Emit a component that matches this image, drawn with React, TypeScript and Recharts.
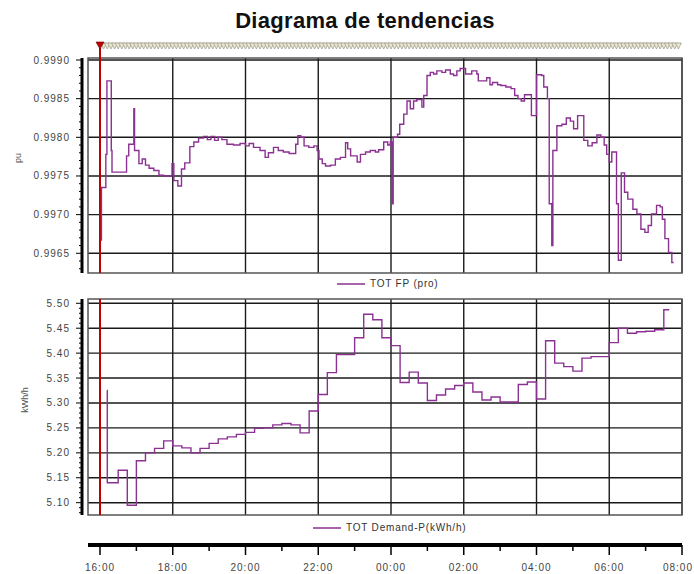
import { LineChart, Line, XAxis, YAxis, CartesianGrid, ReferenceLine, ReferenceArea, Legend } from 'recharts'

const FONT = 'Arial, "Liberation Sans", sans-serif'
const LINE_COLOR = '#8a3191'
const GRID = '#1a1a1a'
const CURSOR = '#c00000'

// time axis is in hours counted from 00:00 of the first day (24 = 00:00 next day)
const hourTicks = [16, 18, 20, 22, 24, 26, 28, 30, 32]
const hourLabels = ['16:00', '18:00', '20:00', '22:00', '00:00', '02:00', '04:00', '06:00', '08:00']
const allHours = [16, 17, 18, 19, 20, 21, 22, 23, 24, 25, 26, 27, 28, 29, 30, 31, 32]

const fpMajor = [0.9965, 0.997, 0.9975, 0.998, 0.9985, 0.999]
const fpLabels = ['0.9965', '0.9970', '0.9975', '0.9980', '0.9985', '0.9990']
const demandMajor = [5.1, 5.15, 5.2, 5.25, 5.3, 5.35, 5.4, 5.45, 5.5]
const demandLabels = ['5.10', '5.15', '5.20', '5.25', '5.30', '5.35', '5.40', '5.45', '5.50']

const fpTimes = [
	16.02, 16.04, 16.16, 16.19, 16.31, 16.33, 16.73, 16.79, 16.93, 16.95,
	17.07, 17.16, 17.25, 17.35, 17.48, 17.62, 17.75, 17.98, 18.03, 18.14,
	18.24, 18.33, 18.47, 18.58, 18.71, 18.85, 18.95, 19.05, 19.15, 19.25,
	19.35, 19.49, 19.67, 19.85, 20.0, 20.1, 20.22, 20.4, 20.54, 20.63,
	20.77, 20.9, 21.04, 21.2, 21.38, 21.44, 21.52, 21.61, 21.74, 21.88,
	21.97, 22.02, 22.11, 22.2, 22.34, 22.47, 22.61, 22.75, 22.81, 22.89,
	23.07, 23.16, 23.3, 23.43, 23.57, 23.66, 23.8, 23.91, 23.98, 24.03,
	24.06, 24.18, 24.24, 24.35, 24.44, 24.53, 24.62, 24.71, 24.85, 24.9,
	24.99, 25.08, 25.17, 25.26, 25.4, 25.5, 25.63, 25.72, 25.81, 25.9,
	26.05, 26.22, 26.36, 26.4, 26.63, 26.72, 26.79, 26.93, 27.02, 27.16,
	27.3, 27.4, 27.49, 27.58, 27.67, 27.86, 28.0, 28.14, 28.2, 28.3,
	28.35, 28.42, 28.45, 28.56, 28.7, 28.82, 28.93, 29.02, 29.13, 29.3,
	29.41, 29.53, 29.66, 29.77, 29.86, 29.93, 30.0, 30.07, 30.2, 30.25,
	30.33, 30.42, 30.51, 30.65, 30.76, 30.87, 30.98, 31.07, 31.16, 31.3,
	31.4, 31.46, 31.53, 31.63, 31.72, 31.77,
]
const fpValues = [
	0.99667, 0.99735, 0.99778, 0.99873, 0.99783, 0.99755, 0.99776, 0.99791, 0.99837, 0.99783,
	0.99766, 0.99772, 0.99764, 0.9976, 0.99757, 0.99751, 0.9975, 0.99766, 0.99744, 0.99737,
	0.99759, 0.99767, 0.99788, 0.99794, 0.99799, 0.99801, 0.99797, 0.99801, 0.99796, 0.998,
	0.99797, 0.99791, 0.9979, 0.99792, 0.99789, 0.99792, 0.99787, 0.99783, 0.99774, 0.9978,
	0.99787, 0.99783, 0.99781, 0.99779, 0.99791, 0.99802, 0.998, 0.99789, 0.99787, 0.99789,
	0.99783, 0.99772, 0.99766, 0.99763, 0.99764, 0.99772, 0.99774, 0.99793, 0.99785, 0.99776,
	0.99768, 0.99778, 0.99781, 0.99783, 0.99781, 0.99784, 0.99794, 0.9979, 0.99794, 0.99714,
	0.998, 0.99804, 0.99817, 0.9983, 0.99847, 0.99837, 0.99847, 0.99849, 0.99839, 0.99854,
	0.9988, 0.99884, 0.99882, 0.99886, 0.99884, 0.99887, 0.99882, 0.9988, 0.99886, 0.99889,
	0.99882, 0.99886, 0.99882, 0.99873, 0.99877, 0.99868, 0.99871, 0.99868, 0.99867, 0.99865,
	0.99863, 0.99854, 0.9985, 0.99847, 0.99855, 0.99828, 0.99881, 0.9988, 0.99865, 0.9985,
	0.99714, 0.9966, 0.99783, 0.99815, 0.99817, 0.99825, 0.99821, 0.99811, 0.99828, 0.99796,
	0.99789, 0.99793, 0.99803, 0.998, 0.9979, 0.99778, 0.99768, 0.99781, 0.99714, 0.99641,
	0.99754, 0.99729, 0.9972, 0.99707, 0.99701, 0.99681, 0.99677, 0.99686, 0.99701, 0.99712,
	0.9971, 0.99694, 0.99669, 0.99651, 0.99638, 0.99638,
]

const demandTimes = [
	16.19, 16.2, 16.5, 16.75, 17.0, 17.25, 17.5, 17.75, 18.0, 18.25,
	18.5, 18.75, 19.0, 19.25, 19.5, 19.75, 20.0, 20.25, 20.5, 20.75,
	21.0, 21.25, 21.5, 21.75, 22.0, 22.25, 22.5, 22.75, 23.0, 23.25,
	23.5, 23.75, 24.0, 24.25, 24.5, 24.75, 25.0, 25.25, 25.5, 25.75,
	26.0, 26.25, 26.5, 26.75, 27.0, 27.25, 27.5, 27.75, 28.0, 28.25,
	28.5, 28.75, 29.0, 29.25, 29.5, 29.75, 30.0, 30.25, 30.5, 30.75,
	31.0, 31.25, 31.5, 31.65,
]
const demandValues = [
	5.325, 5.14, 5.165, 5.095, 5.184, 5.2, 5.209, 5.224, 5.214, 5.21,
	5.2, 5.209, 5.219, 5.228, 5.232, 5.237, 5.241, 5.249, 5.25, 5.256,
	5.259, 5.256, 5.24, 5.284, 5.317, 5.361, 5.397, 5.397, 5.431, 5.478,
	5.467, 5.431, 5.415, 5.341, 5.362, 5.34, 5.305, 5.316, 5.328, 5.335,
	5.34, 5.322, 5.306, 5.312, 5.302, 5.302, 5.337, 5.342, 5.308, 5.425,
	5.38, 5.373, 5.364, 5.39, 5.393, 5.393, 5.421, 5.45, 5.44, 5.443,
	5.444, 5.447, 5.487, 5.487,
]

const cursorTime = 16
// event markers along the top strip, one every 6 minutes
const eventTimes = Array.from({ length: 159 }, (_, i) => Number((16.1 + i * 0.1).toFixed(2)))

const fpMinor = Array.from({ length: 28 }, (_, i) => Number((0.9963 + i * 0.0001).toFixed(4)))
const demandMinor = Array.from({ length: 43 }, (_, i) => Number((5.08 + i * 0.01).toFixed(2)))

const T_DOMAIN = [15.67, 32]
const FP_DOMAIN = [0.996245, 0.999026]
const DEMAND_DOMAIN = [5.0753, 5.5086]

const fpData = fpTimes.map((t, i) => ({ t, v: fpValues[i] }))
const demandData = demandTimes.map((t, i) => ({ t, v: demandValues[i] }))

const tickText = { fontFamily: FONT, fontSize: 10, fill: '#444', letterSpacing: 1 }

function makeYTick(majors: number[], labels: string[]) {
	return (props: any) => {
		const { x, y, payload } = props
		const i = majors.findIndex((m) => Math.abs(m - payload.value) < 1e-6)
		const ax = x - 6
		return (
			<g>
				<line x1={ax} x2={ax - (i >= 0 ? 6 : 3)} y1={y} y2={y} stroke="#000" strokeWidth={1} />
				{i >= 0 && (
					<text x={ax - 12} y={y} dy="0.35em" textAnchor="end" {...tickText}>
						{labels[i]}
					</text>
				)}
			</g>
		)
	}
}

function EventTick(props: any) {
	const { x, y, payload } = props
	if (payload.value === cursorTime) {
		return (
			<g>
				<line x1={x} x2={x} y1={y - 10} y2={y} stroke={CURSOR} strokeWidth={2} />
				<polygon points={`${x - 4},${y - 16} ${x + 4},${y - 16} ${x},${y - 9}`} fill={CURSOR} stroke="#600" strokeWidth={0.6} />
			</g>
		)
	}
	return (
		<polygon
			points={`${x - 3},${y - 15} ${x + 3},${y - 15} ${x},${y - 9}`}
			fill="#ebe7cf"
			stroke="#9a978a"
			strokeWidth={0.7}
		/>
	)
}

function TimeTick(props: any) {
	const { x, y, payload } = props
	const i = hourTicks.indexOf(payload.value)
	const last = i === hourTicks.length - 1
	return (
		<g>
			<line x1={x} x2={x} y1={y} y2={y + (i >= 0 ? 10 : 6)} stroke="#000" strokeWidth={1.5} />
			{i >= 0 && (
				<text x={last ? x + 11 : x} y={y + 26} textAnchor={last ? 'end' : 'middle'} {...tickText}>
					{hourLabels[i]}
				</text>
			)}
		</g>
	)
}

const legendContent = (props: any) => {
	const item = props.payload && props.payload[0]
	return (
		<div style={{ display: 'flex', alignItems: 'center', fontFamily: FONT, fontSize: 10, color: '#333', letterSpacing: 0.8, whiteSpace: 'nowrap' }}>
			<svg width={28} height={6}>
				<line x1={0} y1={3} x2={28} y2={3} stroke={LINE_COLOR} strokeWidth={1.5} />
			</svg>
			<span style={{ marginLeft: 5 }}>{item ? item.value : ''}</span>
		</div>
	)
}

const axisTitle = (label: string, x: number, y: number) => () => (
	<text x={x} y={y} transform={`rotate(-90 ${x} ${y})`} textAnchor="middle" fontFamily={FONT} fontSize={9} fill="#555">
		{label}
	</text>
)

export default function App() {
	return (
		<div style={{ position: 'absolute', left: 0, top: 0, width: 694, height: 574, background: '#fff' }}>
			<svg width={694} height={40} style={{ position: 'absolute', left: 0, top: 0 }}>
				<text x={365} y={28} textAnchor="middle" fontFamily={FONT} fontSize={22} fontWeight="bold" fill="#111" letterSpacing={0.3}>
					Diagrama de tendencias
				</text>
			</svg>

			<div style={{ position: 'absolute', left: 0, top: 0 }}>
				<LineChart width={694} height={300} margin={{ top: 30, right: 12, bottom: 27, left: 0 }}>
					<XAxis
						xAxisId="t"
						dataKey="t"
						orientation="top"
						type="number"
						domain={T_DOMAIN}
						allowDataOverflow
						ticks={[...eventTimes, cursorTime]}
						interval={0}
						tick={EventTick}
						tickSize={0}
						tickMargin={0}
						tickLine={false}
						axisLine={false}
						height={28}
					/>
					<YAxis
						type="number"
						domain={FP_DOMAIN}
						allowDataOverflow
						ticks={fpMinor}
						interval={0}
						tick={makeYTick(fpMajor, fpLabels)}
						tickSize={0}
						tickMargin={0}
						tickLine={false}
						axisLine={{ stroke: '#000', strokeWidth: 3, transform: 'translate(-6,0)' }}
						width={88}
						label={{ value: 'pu', content: axisTitle('pu', 21, 158) }}
					/>
					<CartesianGrid xAxisId="t" stroke={GRID} strokeWidth={1.4} horizontalValues={fpMajor} verticalValues={hourTicks} />
					<ReferenceArea xAxisId="t" x1={T_DOMAIN[0]} x2={T_DOMAIN[1]} y1={FP_DOMAIN[0]} y2={FP_DOMAIN[1]} ifOverflow="visible" fill="none" stroke="#555" strokeWidth={1.5} />
					<ReferenceLine xAxisId="t" x={cursorTime} stroke={CURSOR} strokeWidth={2} />
					<Line xAxisId="t" data={fpData} dataKey="v" name="TOT FP (pro)" type="stepAfter" stroke={LINE_COLOR} strokeWidth={1.4} dot={false} activeDot={false} isAnimationActive={false} />
					<Legend layout="horizontal" verticalAlign="middle" align="center" content={legendContent} wrapperStyle={{ top: 278, left: 337, width: 'auto' }} />
				</LineChart>
			</div>

			<div style={{ position: 'absolute', left: 0, top: 290 }}>
				<LineChart width={694} height={284} margin={{ top: 9, right: 12, bottom: 0, left: 0 }}>
					<XAxis xAxisId={0} type="number" domain={T_DOMAIN} allowDataOverflow tick={false} tickLine={false} axisLine={false} height={30} />
					<XAxis
						xAxisId={1}
						dataKey="t"
						type="number"
						domain={T_DOMAIN}
						allowDataOverflow
						ticks={allHours}
						interval={0}
						tick={TimeTick}
						tickSize={0}
						tickMargin={0}
						tickLine={false}
						axisLine={{ stroke: '#000', strokeWidth: 4 }}
						height={29}
					/>
					<YAxis
						type="number"
						domain={DEMAND_DOMAIN}
						allowDataOverflow
						ticks={demandMinor}
						interval={0}
						tick={makeYTick(demandMajor, demandLabels)}
						tickSize={0}
						tickMargin={0}
						tickLine={false}
						axisLine={{ stroke: '#000', strokeWidth: 3, transform: 'translate(-6,0)' }}
						width={88}
						label={{ value: 'kWh/h', content: axisTitle('kWh/h', 28, 110) }}
					/>
					<CartesianGrid xAxisId={1} stroke={GRID} strokeWidth={1.4} horizontalValues={demandMajor} verticalValues={hourTicks} />
					<ReferenceArea xAxisId={1} x1={T_DOMAIN[0]} x2={T_DOMAIN[1]} y1={DEMAND_DOMAIN[0]} y2={DEMAND_DOMAIN[1]} ifOverflow="visible" fill="none" stroke="#555" strokeWidth={1.5} />
					<ReferenceLine xAxisId={1} x={cursorTime} stroke={CURSOR} strokeWidth={2} />
					<Line xAxisId={1} data={demandData} dataKey="v" name="TOT Demand-P(kWh/h)" type="stepAfter" stroke={LINE_COLOR} strokeWidth={1.4} dot={false} activeDot={false} isAnimationActive={false} />
					<Legend layout="horizontal" verticalAlign="middle" align="center" content={legendContent} wrapperStyle={{ top: 232, left: 313, width: 'auto' }} />
				</LineChart>
			</div>
		</div>
	)
}
